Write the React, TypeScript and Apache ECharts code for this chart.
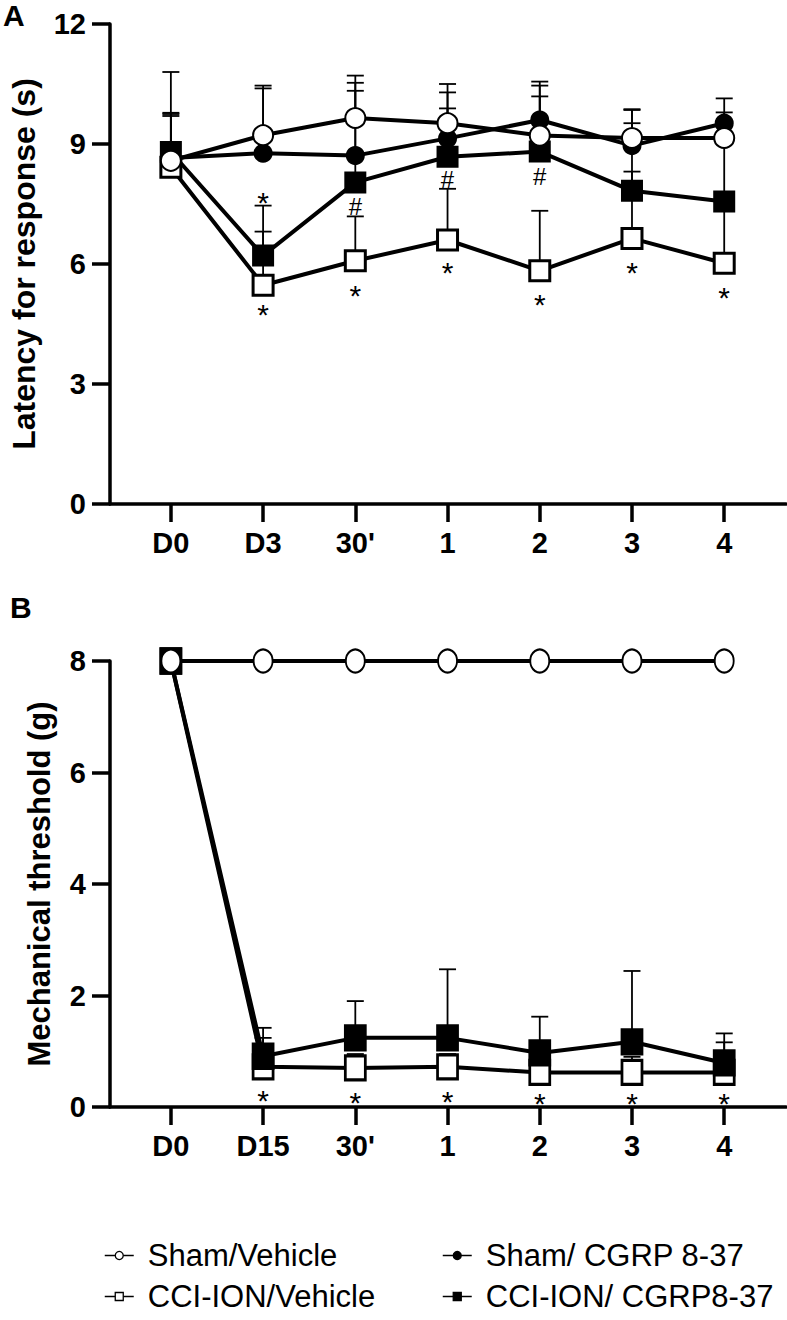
import React, { useEffect, useRef } from "react";
import * as echarts from "echarts";

const FONT = "'Liberation Sans', Arial, Helvetica, sans-serif";

const catsA = ["D0", "D3", "30'", "1", "2", "3", "4"];
const catsB = ["D0", "D15", "30'", "1", "2", "3", "4"];
const xIdx = [0, 1, 2, 3, 4, 5, 6];

const names = ["Sham/Vehicle", "Sham/ CGRP 8-37", "CCI-ION/Vehicle", "CCI-ION/ CGRP8-37"];

// Panel A: latency (s) means
const aShamVeh = [8.58, 9.22, 9.65, 9.52, 9.21, 9.15, 9.15];
const aShamCgrp = [8.65, 8.77, 8.71, 9.14, 9.6, 8.96, 9.52];
const aCciVeh = [8.42, 5.47, 6.08, 6.6, 5.83, 6.64, 6.02];
const aCciCgrp = [8.8, 6.21, 8.04, 8.68, 8.81, 7.83, 7.56];
// Panel A: upper end of error bars (mean + SD)
const aShamVehErr = [10.8, 10.46, 10.71, 10.5, 10.46, 9.52, 9.79];
const aShamCgrpErr = [9.7, 10.39, 10.33, 10.29, 10.56, 9.87, 10.14];
const aCciVehErr = [9.78, 6.81, 7.19, 7.88, 7.33, 8.31, 7.4];
const aCciCgrpErr = [9.75, 7.46, 10.53, 9.89, 10.19, 9.85, 9.1];

// Panel B: mechanical threshold (g) means
const bShamVeh = [8, 8, 8, 8, 8, 8, 8];
const bShamCgrp = [8, 8, 8, 8, 8, 8, 8];
const bCciVeh = [8, 0.72, 0.7, 0.72, 0.62, 0.62, 0.62];
const bCciCgrp = [8, 0.91, 1.24, 1.24, 0.97, 1.17, 0.79];
// Panel B: upper end of error bars
const bCciVehErr = [null, 1.24, 0.95, 0.95, 1.15, 0.9, 1.16];
const bCciCgrpErr = [null, 1.42, 1.9, 2.47, 1.62, 2.44, 1.32];

// Significance marks
const aStarX = [1, 1, 2, 3, 4, 5, 6];
const aStarY = [7.72, 4.92, 5.38, 5.96, 5.17, 5.96, 5.35];
const aHashX = [2, 3, 4];
const aHashY = [7.45, 8.12, 8.2];
const bStarX = [1, 2, 3, 4, 5, 6];
const bStarY = [0.24, 0.2, 0.22, 0.18, 0.18, 0.19];

const styles = [
  { symbol: "circle", fill: "#fff" },
  { symbol: "circle", fill: "#000" },
  { symbol: "rect", fill: "#fff" },
  { symbol: "rect", fill: "#000" },
];

export default function App() {
  const ref = useRef<HTMLDivElement>(null);
  useEffect(() => {
    document.body.style.margin = "0";
    const chart = echarts.init(ref.current!, null, { renderer: "svg" });

    const axisLineStyle = { color: "#000", width: 3.5 };
    const tickLabel = { fontSize: 29, fontWeight: "bold", color: "#000", fontFamily: FONT };

    const makeX = (grid: number, cats: string[]) => ({
      type: "value",
      gridIndex: grid,
      min: -0.66,
      max: 6.67,
      axisLine: { show: true, onZero: false, lineStyle: axisLineStyle },
      axisTick: { show: true, length: 18, lineStyle: axisLineStyle, customValues: xIdx },
      axisLabel: {
        ...tickLabel,
        margin: 24,
        customValues: xIdx,
        formatter: (v: number) => cats[Math.round(v)],
      },
      splitLine: { show: false },
    });
    const makeY = (grid: number, max: number, interval: number, name: string, gap: number, fs: number) => ({
      type: "value",
      gridIndex: grid,
      min: 0,
      max,
      interval,
      axisLine: { show: true, onZero: false, lineStyle: axisLineStyle },
      axisTick: { show: true, length: 18, lineStyle: axisLineStyle },
      axisLabel: { ...tickLabel, margin: 24 },
      splitLine: { show: false },
      name,
      nameLocation: "middle",
      nameGap: gap,
      nameTextStyle: { fontSize: fs, fontWeight: "bold", color: "#000", fontFamily: FONT },
    });

    const lineSeries = (grid: number, vals: number[][], size: number[][]) =>
      [2, 3, 1, 0].map((k) => ({
        type: "line",
        name: names[k],
        xAxisIndex: grid,
        yAxisIndex: grid,
        data: vals[k].map((v, i) => [xIdx[i], v]),
        symbol: styles[k].symbol,
        symbolSize: size[k],
        showSymbol: true,
        lineStyle: { color: "#000", width: 4 },
        itemStyle: { color: styles[k].fill, borderColor: "#000", borderWidth: k >= 2 ? 3 : 2 },
        z: 3,
      }));

    const errSeries = (grid: number, means: number[][], errs: (number | null)[][]) =>
      means.map((m, k) => ({
        type: "custom",
        name: "err" + grid + k,
        xAxisIndex: grid,
        yAxisIndex: grid,
        z: 1,
        data: m
          .map((v, i) => [xIdx[i], v, errs[k][i]])
          .filter((d) => d[2] !== null),
        renderItem: (params: any, api: any) => {
          const p1 = api.coord([api.value(0), api.value(1)]);
          const p2 = api.coord([api.value(0), api.value(2)]);
          const st = { stroke: "#000", lineWidth: 1.8 };
          return {
            type: "group",
            children: [
              { type: "line", shape: { x1: p1[0], y1: p1[1], x2: p2[0], y2: p2[1] }, style: st },
              { type: "line", shape: { x1: p2[0] - 8.5, y1: p2[1], x2: p2[0] + 8.5, y2: p2[1] }, style: st },
            ],
          };
        },
      }));

    const markSeries = (grid: number, xs: number[], ys: number[], txt: string, fs: number, dy: number) => ({
      type: "custom",
      name: "mark" + grid + txt,
      xAxisIndex: grid,
      yAxisIndex: grid,
      z: 4,
      data: xs.map((x, i) => [x, ys[i]]),
      renderItem: (params: any, api: any) => {
        const p = api.coord([api.value(0), api.value(1)]);
        return {
          type: "text",
          x: p[0],
          y: p[1] + dy,
          style: {
            text: txt,
            fontSize: fs,
            fontFamily: FONT,
            fill: "#000",
            align: "center",
            verticalAlign: "middle",
          },
        };
      },
    });

    const aVals = [aShamVeh, aShamCgrp, aCciVeh, aCciCgrp];
    const aErrs = [aShamVehErr, aShamCgrpErr, aCciVehErr, aCciCgrpErr];
    const bVals = [bShamVeh, bShamCgrp, bCciVeh, bCciCgrp];
    const bErrs: (number | null)[][] = [
      bShamVeh.map(() => null),
      bShamCgrp.map(() => null),
      bCciVehErr,
      bCciCgrpErr,
    ];

    const legendCommon = {
      orient: "vertical",
      padding: 0,
      itemWidth: 29,
      itemHeight: 10,
      itemGap: 10,
      selectedMode: false,
      lineStyle: { width: 1.5 },
      itemStyle: { borderWidth: 1.3 },
      textStyle: { fontSize: 31, color: "#000", fontFamily: FONT, lineHeight: 31, padding: [0, 0, 0, 9] },
    };

    chart.setOption({
      animation: false,
      backgroundColor: "#fff",
      grid: [
        { left: 110, top: 24, width: 676, height: 480 },
        { left: 110, top: 661, width: 676, height: 446 },
      ],
      xAxis: [makeX(0, catsA), makeX(1, catsB)],
      yAxis: [
        makeY(0, 12, 3, "Latency for response (s)", 70, 32),
        makeY(1, 8, 2, "Mechanical threshold (g)", 55, 31),
      ],
      legend: [
        { ...legendCommon, left: 104, top: 1240, height: 80, data: [names[0], names[2]] },
        { ...legendCommon, left: 442, top: 1240, height: 80, data: [names[1], names[3]] },
      ],
      graphic: [
        { type: "text", left: 3, top: 0, style: { text: "A", fontSize: 30, fontWeight: "bold", fill: "#000", fontFamily: FONT } },
        { type: "text", left: 10, top: 592, style: { text: "B", fontSize: 30, fontWeight: "bold", fill: "#000", fontFamily: FONT } },
      ],
      series: [
        ...errSeries(0, aVals, aErrs),
        ...lineSeries(0, aVals, [[20, 20], [17, 17], [20, 20], [19, 19]]),
        markSeries(0, aStarX, aStarY, "*", 30, 7),
        markSeries(0, aHashX, aHashY, "#", 24, 0),
        ...errSeries(1, bVals, bErrs),
        ...lineSeries(1, bVals, [[19, 23], [17, 20], [20, 24], [20, 24]]),
        markSeries(1, bStarX, bStarY, "*", 30, 7),
      ],
    });
    return () => chart.dispose();
  }, []);
  return <div ref={ref} style={{ width: 787, height: 1320 }} />;
}
